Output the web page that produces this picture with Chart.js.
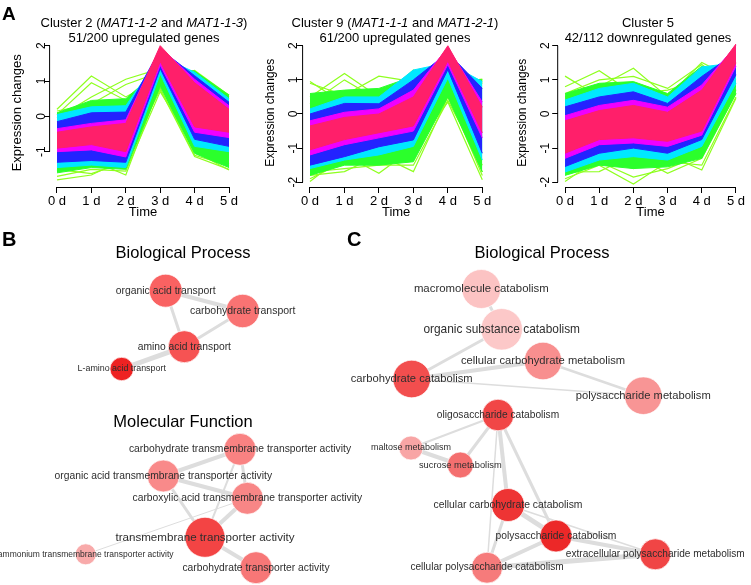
<!DOCTYPE html>
<html>
<head>
<meta charset="utf-8">
<script src="https://cdn.jsdelivr.net/npm/chart.js@4.4.1/dist/chart.umd.min.js"></script>
<style>
  body { margin: 0; background: #fff; font-family: "Liberation Sans", Arial, sans-serif; }
  #wrap { position: relative; width: 751px; height: 585px; overflow: hidden; }
  canvas { position: absolute; }
  .t { position: absolute; white-space: nowrap; color: #000; transform: translate(-50%, -50%); line-height: 1; }
  .panel { position: absolute; font-weight: bold; color: #000; line-height: 1; }
</style>
</head>
<body>
<div id="wrap">
  <canvas id="c2" width="250" height="230" style="left:0;top:0"></canvas>
  <canvas id="c9" width="250" height="230" style="left:250px;top:0"></canvas>
  <canvas id="c5" width="251" height="230" style="left:500px;top:0"></canvas>
  <canvas id="net" width="751" height="330" style="left:0;top:255px"></canvas>

  <div class="panel" style="left:2px;top:4px;font-size:19px">A</div>
  <div class="panel" style="left:2px;top:229px;font-size:20px">B</div>
  <div class="panel" style="left:347px;top:229px;font-size:20px">C</div>

  <div class="t" style="left:144px;top:22px;font-size:13px">Cluster 2 (<i>MAT1-1-2</i> and <i>MAT1-1-3</i>)</div>
  <div class="t" style="left:144px;top:37px;font-size:13px">51/200 upregulated genes</div>
  <div class="t" style="left:395px;top:22px;font-size:13px">Cluster 9 (<i>MAT1-1-1</i> and <i>MAT1-2-1</i>)</div>
  <div class="t" style="left:395px;top:37px;font-size:13px">61/200 upregulated genes</div>
  <div class="t" style="left:648px;top:22px;font-size:13px">Cluster 5</div>
  <div class="t" style="left:648px;top:37px;font-size:13px">42/112 downregulated genes</div>

  <div class="t" style="left:183px;top:252px;font-size:16.5px">Biological Process</div>
  <div class="t" style="left:183px;top:421px;font-size:16.5px">Molecular Function</div>
  <div class="t" style="left:542px;top:252px;font-size:16.5px">Biological Process</div>
</div>

<script>
// time axis
const timeTicks = [0, 1, 2, 3, 4, 5];
const timeLabels = ['0 d', '1 d', '2 d', '3 d', '4 d', '5 d'];

// Cluster 2 - bands from high membership (red core) to low (green)
const c2Ticks = [-1, 0, 1, 2];
const c2RedHi   = [-0.45, -0.3, -0.2, 2.0, 0.95, 0.2];
const c2RedLo   = [-0.9, -0.8, -1.0, 1.55, -0.3, -0.45];
const c2MagHi   = [-0.35, -0.2, -0.1, 1.95, 1.05, 0.3];
const c2MagLo   = [-1.0, -0.95, -1.15, 1.45, -0.45, -0.6];
const c2BlueHi  = [-0.15, 0.1, 0.12, 1.9, 1.15, 0.4];
const c2BlueLo  = [-1.3, -1.25, -1.3, 1.35, -0.65, -0.85];
const c2CyanHi  = [0.05, 0.27, 0.3, 1.7, 1.25, 0.5];
const c2CyanLo  = [-1.45, -1.38, -1.45, 1.2, -0.85, -1.0];
const c2GreenHi = [0.1, 0.45, 0.5, 1.35, 1.28, 0.6];
const c2GreenLo = [-1.6, -1.45, -1.5, 0.85, -1.05, -1.45];
const c2Outliers = [
  [0.2, 1.14, 0.55, 1.1, 1.3, 0.6],
  [0.05, 0.95, 0.45, 1.0, 1.2, 0.55],
  [-0.05, 0.55, 1.05, 1.35, 1.28, 0.5],
  [0.15, 0.35, 0.9, 1.25, 1.15, 0.6],
  [-1.8, -1.66, -1.2, 0.75, -1.14, -1.5],
  [-1.55, -1.25, -1.66, 0.9, -1.0, -1.52],
  [-1.7, -1.5, -1.55, 0.7, -0.9, -1.35],
  [-1.5, -1.62, -1.3, 0.8, -1.1, -1.4]
];

// Cluster 9
const c9Ticks = [-2, -1, 0, 1, 2];
const c9RedHi   = [-0.35, -0.1, 0.0, 0.5, 2.0, 0.2];
const c9RedLo   = [-1.05, -0.75, -0.55, -0.35, 1.55, -0.55];
const c9MagHi   = [-0.2, 0.05, 0.15, 0.7, 1.95, 0.35];
const c9MagLo   = [-1.2, -0.9, -0.7, -0.5, 1.45, -0.7];
const c9BlueHi  = [0.0, 0.31, 0.3, 1.0, 1.8, 0.75];
const c9BlueLo  = [-1.5, -1.25, -0.96, -0.76, 1.3, -1.15];
const c9CyanHi  = [0.15, 0.5, 0.5, 1.29, 1.5, 0.95];
const c9CyanLo  = [-1.6, -1.35, -1.2, -0.95, 1.05, -1.35];
const c9GreenHi = [0.6, 0.7, 0.75, 1.1, 1.1, 1.0];
const c9GreenLo = [-1.8, -1.5, -1.5, -1.4, 0.5, -1.7];
const c9Outliers = [
  [0.95, 0.3, 0.6, 0.9, 0.8, 1.0],
  [0.9, 0.55, 1.11, 0.95, 0.7, 0.9],
  [0.5, 1.19, 0.5, 1.0, 0.9, 1.02],
  [0.3, 1.0, 0.4, 1.29, 0.6, 0.95],
  [-1.98, -1.2, -1.74, -1.0, 0.35, -1.93],
  [-1.8, -1.69, -1.2, -1.69, 0.5, -1.7],
  [-1.9, -1.4, -1.3, -1.2, 0.6, -1.8],
  [-1.7, -1.6, -1.5, -1.5, 0.4, -1.5]
];

// Cluster 5
const c5Ticks = [-2, -1, 0, 1, 2];
const c5RedHi   = [-0.2, 0.1, 0.25, 0.05, 0.7, 2.05];
const c5RedLo   = [-1.15, -0.75, -0.7, -0.8, -0.5, 1.5];
const c5MagHi   = [-0.05, 0.25, 0.4, 0.2, 0.85, 2.0];
const c5MagLo   = [-1.3, -0.9, -0.85, -0.95, -0.62, 1.4];
const c5BlueHi  = [0.21, 0.5, 0.65, 0.31, 1.1, 1.8];
const c5BlueLo  = [-1.54, -1.15, -1.0, -1.15, -0.75, 1.15];
const c5CyanHi  = [0.41, 0.75, 0.9, 0.5, 1.38, 1.5];
const c5CyanLo  = [-1.7, -1.35, -1.25, -1.35, -0.95, 0.9];
const c5GreenHi = [0.6, 0.9, 0.95, 0.6, 1.4, 1.1];
const c5GreenLo = [-1.8, -1.5, -1.6, -1.55, -1.3, 0.6];
const c5Outliers = [
  [1.11, 0.5, 0.7, 0.4, 1.2, 0.9],
  [0.8, 1.27, 0.6, 0.7, 1.0, 0.8],
  [0.5, 0.8, 1.34, 0.5, 1.51, 1.0],
  [0.6, 1.0, 1.1, 0.75, 1.45, 0.7],
  [-1.98, -1.3, -1.6, -1.2, -1.64, 0.46],
  [-1.7, -1.69, -1.2, -1.74, -1.3, 0.6],
  [-1.9, -1.5, -2.05, -1.4, -1.5, 0.5],
  [-1.6, -1.4, -1.85, -1.6, -1.2, 0.7]
];

// GO networks (layout units, y grows downward)
const nodeNames = [
  'organic acid transport', 'carbohydrate transport', 'amino acid transport', 'L-amino acid transport',
  'carbohydrate transmembrane transporter activity', 'organic acid transmembrane transporter activity',
  'carboxylic acid transmembrane transporter activity', 'transmembrane transporter activity',
  'ammonium transmembrane transporter activity', 'carbohydrate transporter activity',
  'macromolecule catabolism', 'organic substance catabolism', 'cellular carbohydrate metabolism',
  'carbohydrate catabolism', 'polysaccharide metabolism', 'oligosaccharide catabolism',
  'maltose metabolism', 'sucrose metabolism', 'cellular carbohydrate catabolism',
  'polysaccharide catabolism', 'extracellular polysaccharide metabolism', 'cellular polysaccharide catabolism'
];
const nodeX = [16.57, 24.27, 18.43, 12.17, 24.0, 16.33, 24.73, 20.5, 8.57, 25.6,
               48.13, 50.17, 54.3, 41.17, 64.33, 49.8, 41.1, 46.03, 50.8, 55.6, 65.53, 48.7];
const nodeY = [3.57, 5.6, 9.17, 11.4, 19.43, 22.1, 24.33, 28.23, 29.93, 31.27,
               3.4, 7.43, 10.6, 12.4, 14.07, 16.0, 19.3, 21.0, 25.0, 28.1, 29.93, 31.27];
const nodeSize = [16.5, 16.7, 16, 11.7, 16, 16, 16, 20, 10.5, 16,
                  19.5, 20.8, 18.8, 18.8, 18.8, 15.8, 12, 13, 16.5, 16, 15.5, 15.5];
const nodeColours = ['#f96262', '#f97373', '#f65353', '#ee2222', '#f98282', '#f98a8a', '#f88686',
                     '#f34444', '#f8aaaa', '#f77777', '#fcc3c3', '#fcc8c8', '#f88f8f', '#f24e4e',
                     '#f89595', '#f14646', '#f8a5a5', '#f46f6f', '#ee3434', '#ec2828', '#f04545', '#f67b7b'];
const edgeFrom = [0, 0, 1, 2, 4, 4, 4, 5, 5, 6, 7, 8, 10, 11, 13, 12, 13, 15, 15, 16, 15, 15, 15, 18, 18, 18, 19, 19, 21];
const edgeTo   = [1, 2, 2, 3, 5, 6, 7, 6, 7, 7, 9, 6, 11, 13, 12, 14, 14, 16, 17, 17, 18, 19, 21, 19, 21, 20, 20, 21, 20];
const edgeWeight = [4, 3, 3, 5, 4, 3, 2, 4, 3, 4, 4, 1, 3, 3, 4, 2.5, 1.5, 2, 3, 4, 4, 3, 1.5, 5, 3, 1.5, 4, 4, 5];

Chart.defaults.font.family = '"Liberation Sans", Arial, sans-serif';
Chart.defaults.color = '#000';

const layerColours = ['#ff1f6a', '#f000ff', '#2323ff', '#00e8ff', '#2bff2b'];
const outlierColour = '#8fff1f';

function pts(values) {
  return values.map((v, i) => ({ x: timeTicks[i], y: v }));
}

function clusterDatasets(layers, outliers) {
  const sets = [];
  layers.forEach(([hi, lo], i) => {
    const c = layerColours[i];
    sets.push({ data: pts(hi), borderColor: c, backgroundColor: c, fill: '+1', borderWidth: 1, pointRadius: 0 });
    sets.push({ data: pts(lo), borderColor: c, backgroundColor: c, fill: false, borderWidth: 1, pointRadius: 0 });
  });
  outliers.forEach(v => {
    sets.push({ data: pts(v), borderColor: outlierColour, fill: false, borderWidth: 1.2, pointRadius: 0 });
  });
  return sets;
}

// R style axis lines: only from first to last tick
const rAxes = {
  id: 'rAxes',
  afterDraw(chart) {
    const { ctx, scales: { x, y } } = chart;
    const xt = x.ticks, yt = y.ticks;
    ctx.save();
    ctx.strokeStyle = '#000';
    ctx.lineWidth = 1;
    ctx.beginPath();
    ctx.moveTo(x.getPixelForValue(xt[0].value), x.top + 0.5);
    ctx.lineTo(x.getPixelForValue(xt[xt.length - 1].value), x.top + 0.5);
    ctx.moveTo(y.right - 0.5, y.getPixelForValue(yt[0].value));
    ctx.lineTo(y.right - 0.5, y.getPixelForValue(yt[yt.length - 1].value));
    ctx.stroke();
    ctx.restore();
  }
};

function clusterChart(id, sets, yMin, yMax, yTicks, box) {
  new Chart(document.getElementById(id), {
    type: 'line',
    data: { datasets: sets },
    options: {
      responsive: false,
      animation: false,
      events: [],
      layout: { padding: { left: 0, right: box.right, top: 38.6, bottom: 10 } },
      elements: { line: { tension: 0 } },
      plugins: { legend: { display: false }, tooltip: { enabled: false } },
      scales: {
        x: {
          type: 'linear', min: -0.2, max: 5.2,
          afterBuildTicks: s => { s.ticks = timeTicks.map(v => ({ value: v })); },
          afterFit: s => { s.height = 33; },
          border: { display: false },
          grid: { drawOnChartArea: false, drawTicks: true, tickLength: 6, color: '#000' },
          ticks: { callback: (v, i) => timeLabels[i], autoSkip: false, maxRotation: 0, padding: 1, font: { size: 13 } },
          title: { display: true, text: 'Time', font: { size: 13 }, padding: { top: 0, bottom: 0 } }
        },
        y: {
          type: 'linear', min: yMin, max: yMax,
          afterBuildTicks: s => { s.ticks = yTicks.map(v => ({ value: v })); },
          afterFit: s => { s.width = box.left; },
          border: { display: false },
          grid: { drawOnChartArea: false, drawTicks: true, tickLength: 6, color: '#000' },
          ticks: { minRotation: 90, maxRotation: 90, crossAlign: 'center', padding: box.tickPad, font: { size: 12 } },
          title: { display: true, text: 'Expression changes', font: { size: box.titleSize }, padding: { top: box.titlePad, bottom: 0 } }
        }
      }
    },
    plugins: [rAxes]
  });
}

clusterChart('c2', clusterDatasets([[c2RedHi, c2RedLo], [c2MagHi, c2MagLo], [c2BlueHi, c2BlueLo],
  [c2CyanHi, c2CyanLo], [c2GreenHi, c2GreenLo]], c2Outliers), -2.0, 2.2, c2Ticks,
  { left: 50.1, right: 14.1, titleSize: 13, titlePad: 9.5, tickPad: -3 });
clusterChart('c9', clusterDatasets([[c9RedHi, c9RedLo], [c9MagHi, c9MagLo], [c9BlueHi, c9BlueLo],
  [c9CyanHi, c9CyanLo], [c9GreenHi, c9GreenLo]], c9Outliers), -2.14, 2.21, c9Ticks,
  { left: 53.1, right: 10.8, titleSize: 12, titlePad: 13.5, tickPad: -2 });
clusterChart('c5', clusterDatasets([[c5RedHi, c5RedLo], [c5MagHi, c5MagLo], [c5BlueHi, c5BlueLo],
  [c5CyanHi, c5CyanLo], [c5GreenHi, c5GreenLo]], c5Outliers), -2.14, 2.21, c5Ticks,
  { left: 58.2, right: 8.2, titleSize: 12, titlePad: 15.5, tickPad: 1 });

// network
const nodeLabels = {
  id: 'nodeLabels',
  afterDatasetsDraw(chart) {
    const { ctx } = chart;
    const meta = chart.getDatasetMeta(0);
    ctx.save();
    ctx.fillStyle = '#2e2e2e';
    ctx.textAlign = 'center';
    ctx.textBaseline = 'middle';
    meta.data.forEach((pt, i) => {
      ctx.font = (5 + nodeSize[i] * 0.33).toFixed(1) + 'px "Liberation Sans", Arial, sans-serif';
      ctx.fillText(nodeNames[i], pt.x, pt.y);
    });
    ctx.restore();
  }
};

const netSets = [{
  type: 'bubble',
  data: nodeNames.map((n, i) => ({ x: nodeX[i], y: nodeY[i], r: nodeSize[i] })),
  backgroundColor: nodeColours,
  borderColor: 'rgba(255,255,255,0.7)',
  borderWidth: 1,
  clip: false
}];
edgeFrom.forEach((a, k) => {
  const b = edgeTo[k];
  netSets.push({
    type: 'line',
    data: [{ x: nodeX[a], y: nodeY[a] }, { x: nodeX[b], y: nodeY[b] }],
    borderColor: '#dddddd',
    borderWidth: edgeWeight[k],
    pointRadius: 0,
    fill: false,
    clip: false
  });
});

new Chart(document.getElementById('net'), {
  type: 'bubble',
  data: { datasets: netSets },
  options: {
    responsive: false,
    animation: false,
    events: [],
    layout: { padding: 0, autoPadding: false },
    plugins: { legend: { display: false }, tooltip: { enabled: false } },
    scales: {
      x: { type: 'linear', display: false, min: 0, max: 75.1 },
      y: { type: 'linear', display: false, min: 0, max: 33, reverse: true }
    }
  },
  plugins: [nodeLabels]
});
</script>
</body>
</html>
